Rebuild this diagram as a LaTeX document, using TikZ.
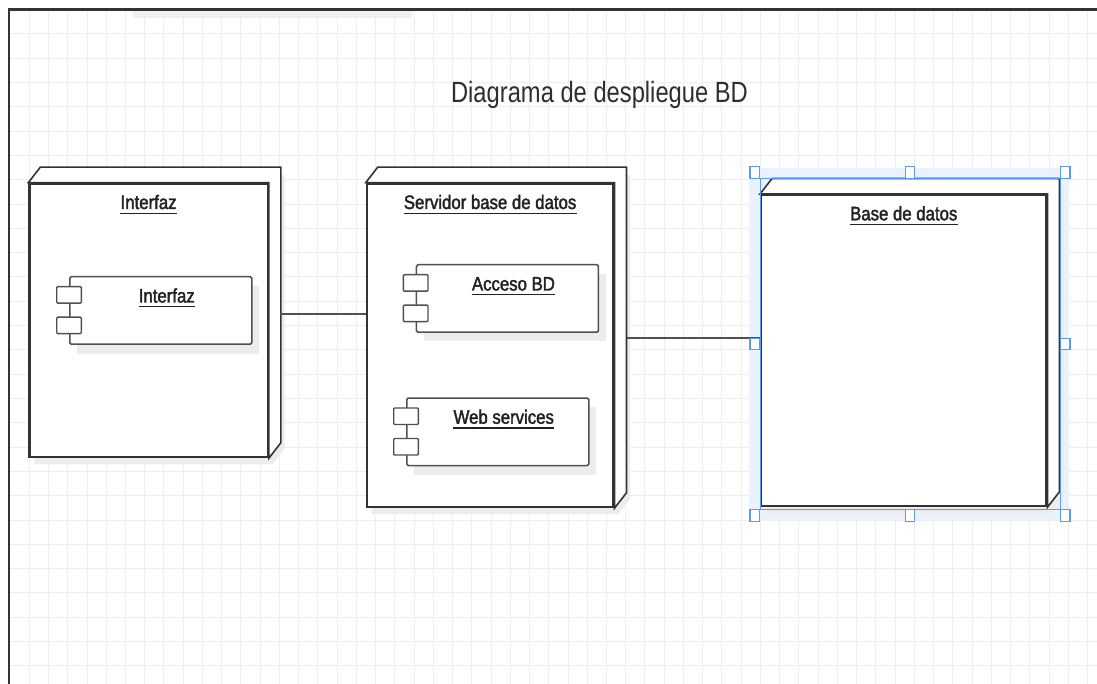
\documentclass[tikz,border=0pt]{standalone}
\usepackage{fontspec}
\setmainfont{Liberation Sans}
\newfontfamily\lblfont[FakeStretch=0.86,FakeBold=2]{Liberation Sans}
\newfontfamily\titlefont[FakeStretch=0.81]{Liberation Sans}
\definecolor{gridc}{RGB}{238,238,238}
\definecolor{edgec}{RGB}{51,51,51}
\definecolor{compc}{RGB}{80,80,80}
\definecolor{shadc}{RGB}{236,236,236}
\definecolor{selc}{RGB}{90,155,240}
\definecolor{glowc}{RGB}{234,242,253}
\definecolor{textc}{RGB}{34,34,34}
\tikzset{
  front/.style={draw=edgec, line width=2.2pt, fill=white, inner sep=0pt},
  depline/.style={draw=edgec, line width=1.6pt, line join=miter},
  comprect/.style={draw=compc, line width=1.5pt, fill=white, rounded corners=1.5pt,
    minimum width=182pt, minimum height=67.5pt, inner sep=0pt},
  cbox/.style={draw=compc, line width=1.4pt, fill=white, rounded corners=1pt,
    minimum width=24.6pt, minimum height=16.5pt, inner sep=0pt},
  lbl/.style={font=\lblfont\fontsize{19.5}{22}\selectfont, text=textc, inner sep=0pt},
  titlef/.style={font=\titlefont\fontsize{29.3}{32}\selectfont, text=black!82, inner sep=0pt},
  ulline/.style={draw=textc, line width=1.3pt},
  conn/.style={draw=compc, line width=2pt},
  gridline/.style={draw=gridc, line width=1pt},
  handle/.style={draw=selc, line width=1.2pt, fill=white, minimum width=9.5pt, minimum height=11.5pt, inner sep=0pt},
}
\newcommand{\ulbl}[1]{\draw[ulline] ([yshift=-4.3pt]#1.base west) -- ([yshift=-4.3pt]#1.base east);}
\newcommand{\depnode}[6]{%
  \begin{scope}[shift={(6,8)}]
    \fill[shadc] (#2,#5) -- (#2,#3) -- (#2+12,#3-15.5) -- (#4+12,#3-15.5) -- (#4+12,#5-15.5) -- (#4,#5) -- cycle;
  \end{scope}
  \node[front, minimum width={(#4-#2)*1pt}, minimum height={(#5-#3)*1pt}, anchor=north west] (#1) at (#2,#3) {};
  \draw[depline, fill=white] (#1.north west) -- ++(12,-15.5) -- ([shift={(12,-15.5)}]#1.north east)
     -- ([shift={(12,-15.5)}]#1.south east) -- (#1.south east) -- (#1.north east) -- cycle;
  \node[front, fill=none, minimum width={(#4-#2)*1pt}, minimum height={(#5-#3)*1pt}, anchor=north west] at (#2,#3) {};
  \node[lbl, anchor=base] (#1l) at ([shift={(0,26.3)}]#1.north) {#6};
  \ulbl{#1l}
}
\newcommand{\comp}[4]{%
  \fill[shadc] (#2+8,#3+10) rectangle ++(182,67.5);
  \node[comprect, anchor=north west] (#1) at (#2,#3) {};
  \node[cbox, anchor=north] (#1a) at ([shift={(0,10)}]#1.north west) {};
  \node[cbox, anchor=north] (#1b) at ([shift={(0,40.5)}]#1.north west) {};
  \node[lbl, anchor=base] (#1l) at ([shift={(6,26.5)}]#1.north) {#4};
  \ulbl{#1l}
}
\begin{document}
\begin{tikzpicture}[x=1pt,y=-1pt]
\useasboundingbox (0,0) rectangle (1097,684);
\clip (0,0) rectangle (1097,684);
\fill[white] (0,0) rectangle (1097,684);
% grid
\foreach \i in {0,...,55} { \draw[gridline] ({29.3+19.24*\i},10) -- ({29.3+19.24*\i},684); }
\foreach \k in {0,...,26} { \draw[gridline] (10,{34+24.3*\k}) -- (1097,{34+24.3*\k}); }
% top faint bar
\fill[black!6] (133,11) rectangle (412,18);
% frame
\draw[edgec, line width=2.5pt] (9,684) -- (9,9.3) -- (1097,9.3);
% title
\node[titlef, anchor=base] (title) at (599.5,102.7) {Diagrama de despliegue BD};
% selection glow
\fill[glowc] (749,168) rectangle (1069,520);
% deployment nodes
\depnode{n1}{28.3}{182.7}{266.7}{456}{Interfaz}
\depnode{n2}{365.7}{182.7}{612.3}{506}{Servidor base de datos}
\depnode{n3}{760}{194}{1045.3}{505}{Base de datos}
% components
\comp{c1}{69}{276}{Interfaz}
\comp{c2}{415.7}{264}{Acceso BD}
\comp{c3}{406}{397.3}{Web services}
% connectors
\coordinate (p1) at ([shift={(11,-6.6)}]n1.east);
\draw[conn] (p1) -- (p1 -| n2.west);
\coordinate (p2) at ([shift={(12.7,-7.7)}]n2.east);
\draw[conn] (p2) -- (p2 -| n3.west);
% selection
\draw[selc, line width=1pt] (760,179) rectangle (1060,509);
\node[handle] (h1) at (754.7,172.5) {};
\node[handle] (h2) at (910,172.5) {};
\node[handle] (h3) at (1065.3,172.5) {};
\node[handle] (h4) at (754.7,344) {};
\node[handle] (h5) at (1065.3,344) {};
\node[handle] (h6) at (754.7,515.5) {};
\node[handle] (h7) at (910,515.5) {};
\node[handle] (h8) at (1065.3,515.5) {};
\end{tikzpicture}
\end{document}
